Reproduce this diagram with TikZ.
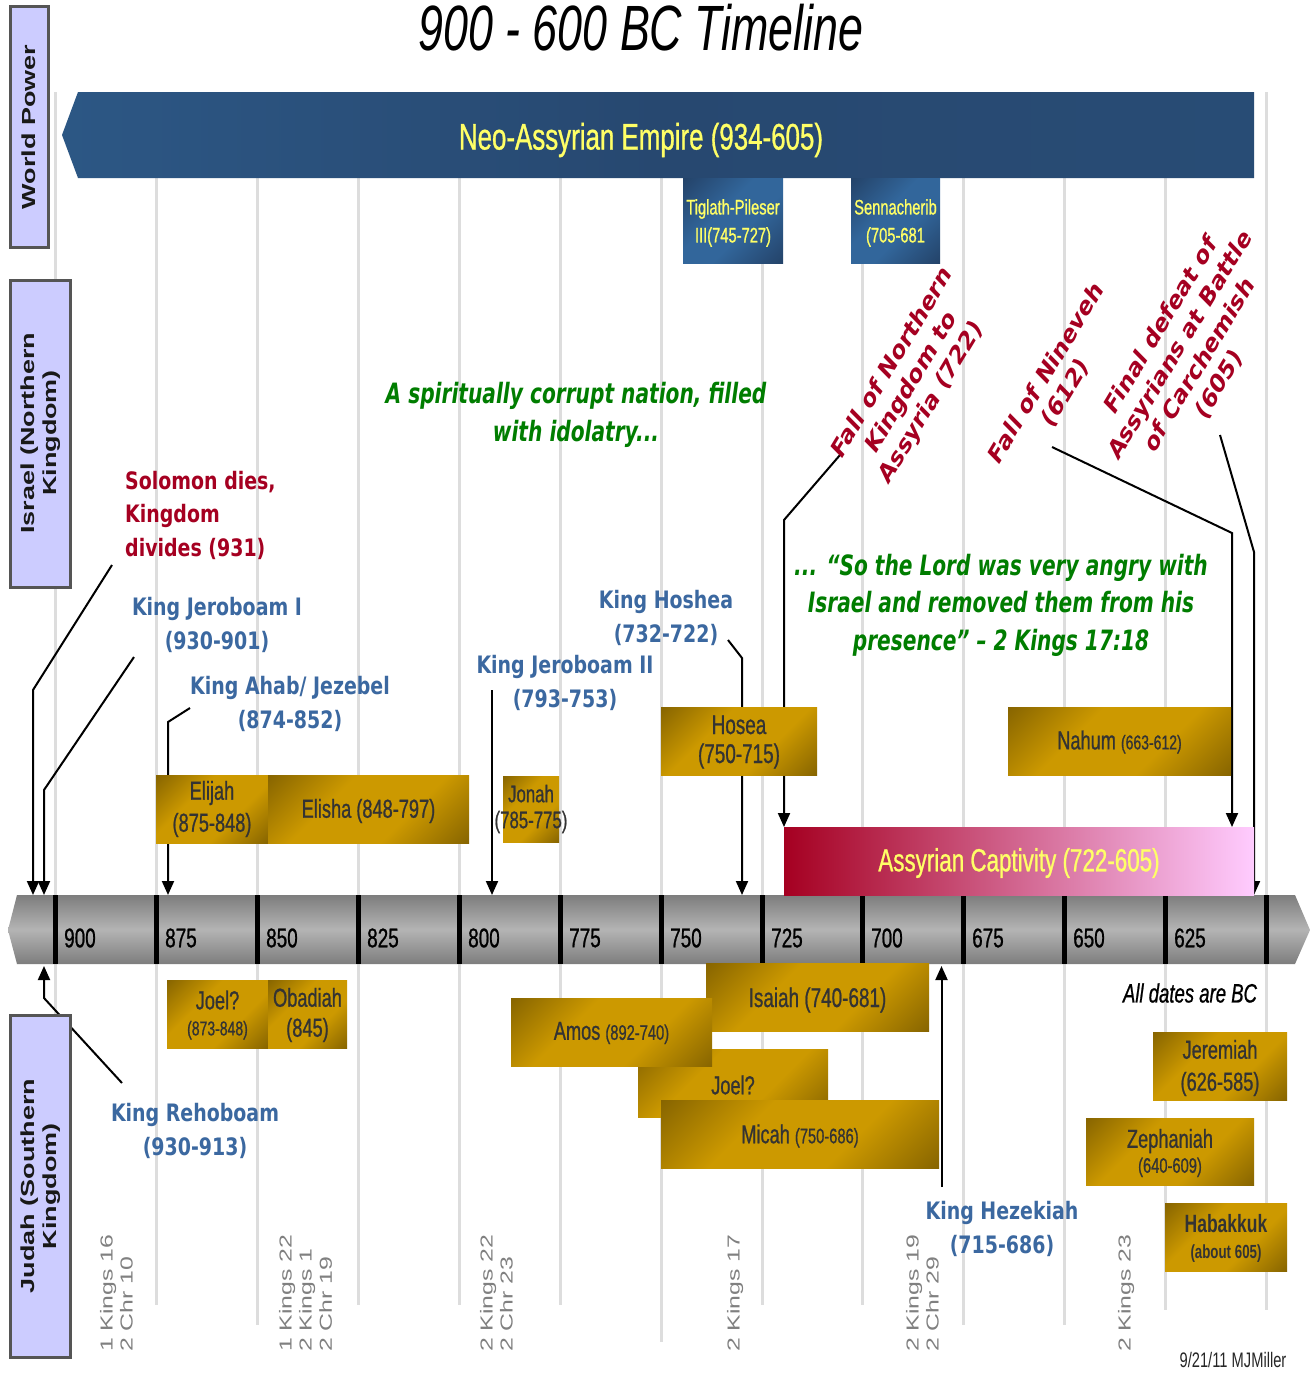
\documentclass[tikz,border=0pt]{standalone}
\usepackage{fontspec}
\setmainfont{Liberation Sans}
\newfontfamily\nsans[FakeStretch=0.7]{Liberation Sans}
\newfontfamily\psans[FakeStretch=0.7, FakeBold=0.8]{Liberation Sans}
\newfontfamily\tah[FakeStretch=0.79]{DejaVu Sans}
\newfontfamily\grn[FakeStretch=0.72]{DejaVu Sans}
\newfontfamily\dvs{DejaVu Sans}
\usetikzlibrary{arrows.meta}
\definecolor{kred}{RGB}{165,0,33}
\definecolor{kblue}{RGB}{59,104,160}
\definecolor{kgreen}{RGB}{0,125,0}
\definecolor{lav}{RGB}{204,204,255}
\definecolor{lavedge}{RGB}{85,85,85}
\definecolor{gridc}{RGB}{221,221,221}
\definecolor{boxtxt}{RGB}{51,51,51}
\definecolor{gold}{RGB}{204,153,0}
\definecolor{golddk}{RGB}{92,68,0}
\definecolor{yel}{RGB}{255,255,102}
\definecolor{bdk}{RGB}{28,48,78}
\definecolor{bmid}{RGB}{50,102,155}
\definecolor{bandA}{RGB}{50,102,153}
\definecolor{bandB}{RGB}{39,72,112}
\definecolor{bandC}{RGB}{42,80,122}
\definecolor{barA}{RGB}{125,125,125}
\definecolor{barB}{RGB}{180,180,180}
\definecolor{capA}{RGB}{165,0,33}
\definecolor{capB}{RGB}{255,204,255}
\definecolor{refgrey}{RGB}{128,128,128}
\pgfdeclarehorizontalshading{goldsh}{100bp}{color(0bp)=(golddk); color(38bp)=(gold); color(62bp)=(gold); color(100bp)=(golddk)}
\pgfdeclarehorizontalshading{bluesh}{100bp}{color(0bp)=(bdk); color(42bp)=(bmid); color(58bp)=(bmid); color(100bp)=(bdk)}
\pgfdeclarehorizontalshading{bandsh}{100bp}{color(0bp)=(bandA); color(50bp)=(bandB); color(100bp)=(bandC)}
\tikzset{
  gridline/.style={draw=gridc, line width=3pt},
  conn/.style={line width=2pt, -{Triangle[length=14pt,width=12pt]}},
  gbox/.style={shading=goldsh, shading angle=-45, inner sep=0pt, outer sep=0pt},
  bbox/.style={shading=bluesh, shading angle=-45, inner sep=0pt, outer sep=0pt},
  ptext/.style={text=boxtxt, font={\psans\fontsize{26}{30}\selectfont}, align=center, inner sep=0pt},
  kinglab/.style={text=kblue, font={\tah\bfseries\fontsize{24}{33.5}\selectfont}, align=center, inner sep=0pt},
  greenlab/.style={text=kgreen, font={\grn\bfseries\itshape\fontsize{28}{37.5}\selectfont}, align=center, inner sep=0pt},
  rotlab/.style={text=kred, font={\dvs\bfseries\fontsize{26.5}{32}\selectfont}, align=center, inner sep=0pt},
  reflab/.style={text=refgrey, font={\fontsize{24.8}{28.6}\selectfont}, align=left, inner sep=0pt, anchor=north west},
  sidelab/.style={text=black!90, font={\bfseries\fontsize{27}{31}\selectfont}, align=center, inner sep=0pt},
  lavbox/.style={fill=lav, draw=lavedge, line width=3pt},
  yearlab/.style={font={\psans\fontsize{27}{30}\selectfont}, inner sep=0pt, anchor=west},
  yeltext/.style={text=yel, font={\psans\fontsize{21}{28}\selectfont}, align=center, inner sep=0pt}
}
\begin{document}
\begin{tikzpicture}[x=1pt, y=-1pt]
\useasboundingbox[fill=white] (0,0) rectangle (1311,1374);

% grid lines
\foreach \gx/\ge in {55/1305, 156/1305, 257/1325, 358/1305, 459/1305, 560/1305, 661/1342, 762/1305, 862/1305, 963/1325, 1064/1325, 1165/1310, 1266/1310}
  \draw[gridline] (\gx,92) -- (\gx,\ge);

% title
\node[font={\nsans\itshape\fontsize{64}{70}\selectfont}, inner sep=0pt] (title) at (641,28) {900 - 600 BC Timeline};

% world power band
\path[shading=bandsh] (62,135) -- (78,92) -- (1254,92) -- (1254,178) -- (78,178) -- cycle;
\node[text=yel, font={\psans\fontsize{37}{40}\selectfont}, inner sep=0pt] (band) at (641,140) {Neo-Assyrian Empire (934-605)};
\node[bbox, minimum width=100pt, minimum height=85pt] (tig) at (733,220.5) {};
\node[yeltext] (tigT) at (733,223) {Tiglath-Pileser\\III(745-727)};
\node[bbox, minimum width=89pt, minimum height=85pt] (sen) at (895.5,220.5) {};
\node[yeltext] (senT) at (895.5,223) {Sennacherib\\(705-681};

% connector coordinates
\coordinate (solA) at (112,565); \coordinate (solB) at (33,690); \coordinate (solC) at (33,895);
\coordinate (j1A) at (134,657); \coordinate (j1B) at (44,790); \coordinate (j1C) at (44,895);
\coordinate (ahA) at (190,708); \coordinate (ahB) at (168,722); \coordinate (ahC) at (168,895);
\coordinate (j2A) at (492,690); \coordinate (j2C) at (492,895);
\coordinate (hoA) at (728,640); \coordinate (hoB) at (742,658); \coordinate (hoC) at (742,895);
\coordinate (fnA) at (840,455); \coordinate (fnB) at (784,520); \coordinate (fnC) at (784,827);
\coordinate (niA) at (1052,447); \coordinate (niB) at (1232,533); \coordinate (niC) at (1232,827);
\coordinate (caA) at (1220,435); \coordinate (caB) at (1254,552); \coordinate (caC) at (1254,895);
\coordinate (reA) at (122,1083); \coordinate (reB) at (44,998); \coordinate (reC) at (44,966);
\coordinate (hzA) at (941.5,1187); \coordinate (hzC) at (941.5,966);

\draw[conn] (solA) -- (solB) -- (solC);
\draw[conn] (j1A) -- (j1B) -- (j1C);
\draw[conn] (ahA) -- (ahB) -- (ahC);
\draw[conn] (j2A) -- (j2C);
\draw[conn] (hoA) -- (hoB) -- (hoC);
\draw[conn] (fnA) -- (fnB) -- (fnC);
\draw[conn] (niA) -- (niB) -- (niC);
\draw[conn] (caA) -- (caB) -- (caC);
\draw[conn] (reA) -- (reB) -- (reC);
\draw[conn] (hzA) -- (hzC);

% left side boxes
\draw[lavbox] (10,6) rectangle (48,247);
\draw[lavbox] (10,280) rectangle (70,587);
\draw[lavbox] (10,1015) rectangle (70,1357);
\begin{scope}[shift={(29,127)}, xscale=0.7, rotate=90, transform shape]
  \node[sidelab] (wp) at (0,0) {World Power};
\end{scope}
\begin{scope}[shift={(41,433)}, xscale=0.7, rotate=90, transform shape]
  \node[sidelab] (isr) at (0,0) {Israel (Northern\\Kingdom)};
\end{scope}
\begin{scope}[shift={(41,1186)}, xscale=0.7, rotate=90, transform shape]
  \node[sidelab] (jud) at (0,0) {Judah (Southern\\Kingdom)};
\end{scope}

% timeline bar
\path[top color=barA, bottom color=barA, middle color=barB] (17,895) -- (1295,895) -- (1310,930) -- (1295,964) -- (17,964) -- (8,930) -- cycle;
\foreach \tx in {55,156,257,358,459,560,661,762,862,963,1064,1165,1266}
  \draw[line width=5pt] (\tx,895) -- (\tx,964);
\foreach \tx/\yr in {55/900,156/875,257/850,358/825,459/800,560/775,661/750,762/725,862/700,963/675,1064/650,1165/625}
  \node[yearlab] (yr\yr) at (\tx+9,938) {\yr};

% captivity
\path[left color=capA, right color=capB] (784,827) rectangle (1254,895);
\node[text=yel, font={\psans\fontsize{32}{34}\selectfont}, inner sep=0pt] (capt) at (1019,863) {Assyrian Captivity (722-605)};

% prophet boxes (north)
\node[gbox, minimum width=112pt, minimum height=68pt] (elijah) at (212,809) {};
\node[ptext, font={\psans\fontsize{26}{32}\selectfont}] (elijahT) at (elijah.center) {Elijah\\(875-848)};
\node[gbox, minimum width=201pt, minimum height=68pt] (elisha) at (368.5,809) {};
\node[ptext] (elishaT) at (368.5,811) {Elisha (848-797)};
\node[gbox, minimum width=56pt, minimum height=66pt] (jonah) at (531,809) {};
\node[ptext, font={\psans\fontsize{24}{26}\selectfont}] (jonahT) at (jonah.center) {Jonah\\(785-775)};
\node[gbox, minimum width=156pt, minimum height=68pt] (hosea) at (739,741) {};
\node[ptext, font={\psans\fontsize{27}{29}\selectfont}] (hoseaT) at (739,742) {Hosea\\(750-715)};
\node[gbox, minimum width=223pt, minimum height=68pt] (nahum) at (1119.5,741) {};
\node[ptext] (nahumT) at (1119.5,742) {Nahum {\fontsize{20}{22}\selectfont(663-612)}};

% prophet boxes (south)
\node[gbox, minimum width=101pt, minimum height=68pt] (joelA) at (217.5,1014) {};
\node[ptext, font={\psans\fontsize{26}{26}\selectfont}] (joelAT) at (217.5,1015) {Joel?\\{\fontsize{20}{22}\selectfont(873-848)}};
\node[gbox, minimum width=79pt, minimum height=68pt] (obad) at (307.5,1014) {};
\node[ptext] (obadT) at (307.5,1015) {Obadiah\\(845)};
\node[gbox, minimum width=223pt, minimum height=68pt] (isaiah) at (817.5,997) {};
\node[ptext, font={\psans\fontsize{27}{30}\selectfont}] (isaiahT) at (817.5,1000) {Isaiah (740-681)};
\node[gbox, minimum width=190pt, minimum height=68pt] (joelB) at (733,1083) {};
\node[ptext] (joelBT) at (733,1085) {Joel?};
\node[gbox, minimum width=201pt, minimum height=68pt] (amos) at (611.5,1032) {};
\node[ptext] (amosT) at (611.5,1033) {Amos {\fontsize{21}{24}\selectfont(892-740)}};
\node[gbox, minimum width=278pt, minimum height=68pt] (micah) at (800,1134) {};
\node[ptext] (micahT) at (800,1136) {Micah {\fontsize{21}{24}\selectfont(750-686)}};
\node[gbox, minimum width=134pt, minimum height=68pt] (jerem) at (1220,1066) {};
\node[ptext, font={\psans\fontsize{26}{32}\selectfont}] (jeremT) at (1220,1068) {Jeremiah\\(626-585)};
\node[gbox, minimum width=168pt, minimum height=67pt] (zeph) at (1170,1151.5) {};
\node[ptext, font={\psans\fontsize{26}{25}\selectfont}] (zephT) at (1170,1153) {Zephaniah\\{\fontsize{21}{24}\selectfont(640-609)}};
\node[gbox, minimum width=122pt, minimum height=68pt] (habak) at (1226,1237) {};
\node[ptext, font={\nsans\bfseries\fontsize{25}{26}\selectfont}] (habakT) at (1226,1238) {Habakkuk\\{\fontsize{19}{22}\selectfont(about 605)}};

% king / event labels
\node[kinglab, text=kred, align=left, anchor=north west] (solomon) at (125,471) {Solomon dies,\\Kingdom\\divides (931)};
\node[kinglab] (jer1) at (217,625) {King Jeroboam I\\(930-901)};
\node[kinglab] (ahab) at (290,704) {King Ahab/ Jezebel\\(874-852)};
\node[kinglab] (jer2) at (565,683) {King Jeroboam II\\(793-753)};
\node[kinglab] (hoshea) at (666,618) {King Hoshea\\(732-722)};
\node[kinglab] (reho) at (195,1131) {King Rehoboam\\(930-913)};
\node[kinglab] (hezek) at (1002,1229) {King Hezekiah\\(715-686)};

\node[greenlab] (spirit) at (576,415) {A spiritually corrupt nation, filled\\with idolatry...};
\node[greenlab] (quote) at (1001,605) {... “So the Lord was very angry with\\Israel and removed them from his\\presence” – 2 Kings 17:18};

\begin{scope}[shift={(912,383)}, xscale=0.77, rotate=52, transform shape]
  \node[rotlab] (falln) at (0,0) {Fall of Northern\\Kingdom to\\Assyria (722)};
\end{scope}
\begin{scope}[shift={(1056,383)}, xscale=0.77, rotate=52, transform shape]
  \node[rotlab] (nineveh) at (0,0) {Fall of Nineveh\\(612)};
\end{scope}
\begin{scope}[shift={(1190,355)}, xscale=0.77, rotate=52, transform shape]
  \node[rotlab] (carch) at (0,0) {Final defeat of\\Assyrians at Battle\\of Carchemish\\(605)};
\end{scope}

% scripture references
\begin{scope}[shift={(100,1352)}, xscale=0.7, rotate=90, transform shape]
  \node[reflab] (ref1) at (0,0) {1 Kings 16\\2 Chr 10};
\end{scope}
\begin{scope}[shift={(279,1352)}, xscale=0.7, rotate=90, transform shape]
  \node[reflab] (ref2) at (0,0) {1 Kings 22\\2 Kings 1\\2 Chr 19};
\end{scope}
\begin{scope}[shift={(480,1352)}, xscale=0.7, rotate=90, transform shape]
  \node[reflab] (ref3) at (0,0) {2 Kings 22\\2 Chr 23};
\end{scope}
\begin{scope}[shift={(727,1352)}, xscale=0.7, rotate=90, transform shape]
  \node[reflab] (ref4) at (0,0) {2 Kings 17};
\end{scope}
\begin{scope}[shift={(906,1352)}, xscale=0.7, rotate=90, transform shape]
  \node[reflab] (ref5) at (0,0) {2 Kings 19\\2 Chr 29};
\end{scope}
\begin{scope}[shift={(1118,1352)}, xscale=0.7, rotate=90, transform shape]
  \node[reflab] (ref6) at (0,0) {2 Kings 23};
\end{scope}

\node[font={\psans\itshape\fontsize{26.5}{30}\selectfont}, inner sep=0pt] (alldates) at (1190,993) {All dates are BC};
\node[font={\nsans\fontsize{21}{24}\selectfont}, text=black!85, inner sep=0pt] (sig) at (1233,1360) {9/21/11 MJMiller};
\end{tikzpicture}
\end{document}
